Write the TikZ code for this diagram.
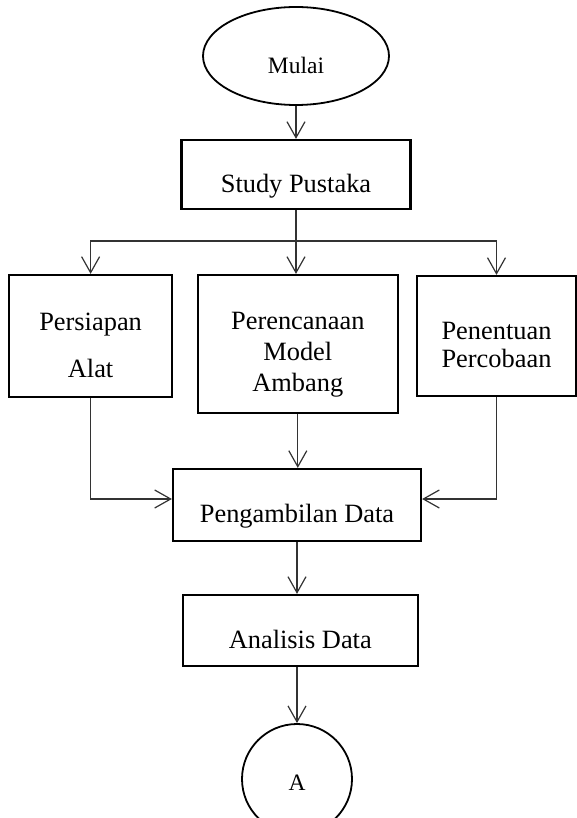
\documentclass[tikz,border=0pt]{standalone}
\usepackage{fontspec}
\setmainfont{Liberation Serif}
\usetikzlibrary{arrows.meta,shapes.geometric,calc}
\tikzset{
  >={Straight Barb[length=16pt,width=18pt]},
  block/.style={rectangle, draw=black, line width=2.2pt, inner sep=0pt},
  terminal/.style={ellipse, draw=black, line width=1.8pt, inner sep=0pt},
  text label/.style={align=center, inner sep=0pt, font=\fontsize{26.4}{31}\selectfont},
  term label/.style={text label, font=\fontsize{23.5}{28}\selectfont},
  line/.style={draw=black!80, line width=1.2pt, ->}
}

\begin{document}
\begin{tikzpicture}[x=1pt,y=-1pt]
      \useasboundingbox (0,0) rectangle (577,818);

      % Draw start and study box.
      \node[terminal, minimum width=186pt, minimum height=98pt,
            label={[term label, yshift=-9pt]center:Mulai}] (mulai) at (296,56) {};
      \node[block, minimum width=229pt, minimum height=69pt,
            label={[text label, yshift=-12pt]center:Study Pustaka}] (study) at (296,174.5) {};
      \coordinate (split) at (296,241);

      % Draw the three parallel steps.
      \node[block, minimum width=163pt, minimum height=122pt,
            label={[text label, yshift=-9pt]center:Persiapan\\[16pt]Alat}] (persiapan) at (90.6,336) {};
      \node[block, minimum width=200pt, minimum height=138pt,
            label={[text label, yshift=-11pt]center:Perencanaan\\Model\\Ambang}] (perencanaan) at (297.8,344) {};
      \node[block, minimum width=159pt, minimum height=120pt,
            label={[text label, yshift=-9pt]center:Penentuan\\[-3pt]Percobaan}] (penentuan) at (496.5,336) {};

      % Draw data boxes and connector to next page.
      \node[block, minimum width=248pt, minimum height=72pt,
            label={[text label, yshift=-11.5pt]center:Pengambilan Data}] (pengambilan) at (297,505) {};
      \node[block, minimum width=235pt, minimum height=71pt,
            label={[text label, yshift=-8.5pt]center:Analisis Data}] (analisis) at (300.3,630.5) {};
      \node[terminal, minimum width=110pt, minimum height=110pt,
            label={[term label, yshift=-4pt]center:A}] (A) at (297,779) {};

      % Connectors.
      \draw[line] (mulai) -- (study);
      \draw[line] (study.south) -- (study.south |- perencanaan.north);
      \draw[line] (split) -| (persiapan.north);
      \draw[line] (split) -| (penentuan.north);
      \draw[line] (perencanaan.south) -- (perencanaan.south |- pengambilan.north);
      \draw[line] (persiapan.south) |- ([yshift=6pt]pengambilan.west);
      \draw[line] (penentuan.south) |- ([yshift=6pt]pengambilan.east);
      \draw[line] (pengambilan.south) -- (pengambilan.south |- analisis.north);
      \draw[line] (pengambilan.south |- analisis.south) -- (A);

    \end{tikzpicture}
\end{document}
